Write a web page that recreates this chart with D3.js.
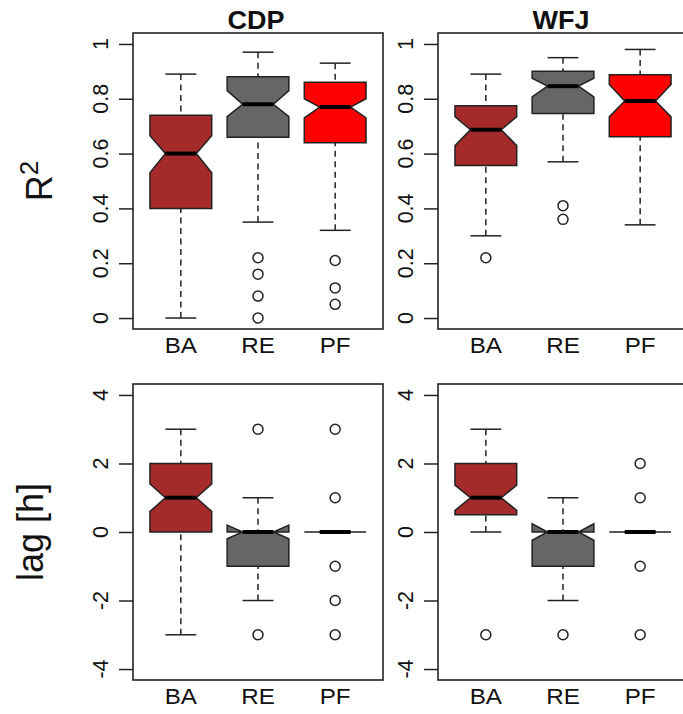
<!DOCTYPE html>
<html lang="en">
<head>
<meta charset="UTF-8">
<title>Notched boxplots</title>
<script src="https://d3js.org/d3.v7.min.js"></script>
<style>
  body { margin: 0; background: #fff; }
  svg { display: block; font-family: "Liberation Sans", Arial, sans-serif; }
</style>
</head>
<body>
<script>
    // categories
    const methods = ["BA", "RE", "PF"];
    const fills = ["#A52A2A", "#666666", "#FF0000"];
    const sites = ["CDP", "WFJ"];

    // each row: [lower whisker, Q1, median, Q3, upper whisker]
    const r2CdpStats = [[0.00, 0.40, 0.60, 0.74, 0.89], [0.35, 0.66, 0.78, 0.88, 0.97], [0.32, 0.64, 0.77, 0.86, 0.93]];
    const r2CdpNotch = [[0.53, 0.665], [0.735, 0.83], [0.73, 0.80]];
    const r2CdpOut = [[], [0.22, 0.16, 0.08, 0.0], [0.21, 0.11, 0.05]];

    const r2WfjStats = [[0.30, 0.557, 0.687, 0.775, 0.89], [0.57, 0.746, 0.846, 0.90, 0.95], [0.34, 0.661, 0.792, 0.888, 0.98]];
    const r2WfjNotch = [[0.629, 0.735], [0.807, 0.875], [0.734, 0.852]];
    const r2WfjOut = [[0.22], [0.41, 0.36], []];

    const lagCdpStats = [[-3, 0, 1, 2, 3], [-2, -1, 0, 0, 1], [0, 0, 0, 0, 0]];
    const lagCdpNotch = [[0.6, 1.4], [-0.2, 0.2], [0, 0]];
    const lagCdpOut = [[], [3, -3], [3, 1, -1, -2, -3]];

    const lagWfjStats = [[0, 0.5, 1, 2, 3], [-2, -1, 0, 0, 1], [0, 0, 0, 0, 0]];
    const lagWfjNotch = [[0.63, 1.37], [-0.24, 0.24], [0, 0]];
    const lagWfjOut = [[-3], [-3], [2, 1, -1, -3]];

    const r2Ticks = [0, 0.2, 0.4, 0.6, 0.8, 1];
    const lagTicks = [-4, -2, 0, 2, 4];

    const width = 683, height = 714;
    const svg = d3.select("body").append("svg").attr("width", width).attr("height", height);

    const panelW = 250, panelH = 296;
    const lefts = [133, 438];
    const tops = [33, 384];

    const rows = [
        { domain: [0, 1], ticks: r2Ticks,
          data: [[r2CdpStats, r2CdpNotch, r2CdpOut], [r2WfjStats, r2WfjNotch, r2WfjOut]] },
        { domain: [-4, 4], ticks: lagTicks,
          data: [[lagCdpStats, lagCdpNotch, lagCdpOut], [lagWfjStats, lagWfjNotch, lagWfjOut]] }
    ];

    const ink = "#222", lw = 1.5;

    rows.forEach((row, ri) => {
        const top = tops[ri];
        const ext = (row.domain[1] - row.domain[0]) * 0.04;
        const y = d3.scaleLinear().domain([row.domain[0] - ext, row.domain[1] + ext]).range([top + panelH, top]);

        row.data.forEach(([stats, notch, outs], ci) => {
            const left = lefts[ci];
            const x = d3.scaleLinear().domain([0.38, 3.62]).range([left, left + panelW]);
            const g = svg.append("g");

            // y axis, labels rotated like R
            const axis = d3.axisLeft(y).tickValues(row.ticks).tickSize(14).tickFormat("");
            const ag = g.append("g").attr("transform", `translate(${left},0)`).call(axis);
            ag.select(".domain").remove();
            ag.selectAll("line").attr("stroke", ink).attr("stroke-width", lw);
            row.ticks.forEach(t => {
                g.append("text")
                    .attr("transform", `translate(${left - 25},${y(t)}) rotate(-90)`)
                    .attr("text-anchor", "middle")
                    .attr("font-size", 21.5)
                    .attr("fill", "#111")
                    .text(String(t));
            });

            // boxes
            const bw = 0.4, nw = 0.2, sw = 0.2;
            stats.forEach((s, i) => {
                const c = i + 1;
                const [lo, q1, med, q3, hi] = s;
                const [nlo, nhi] = notch[i];
                const dash = "6,4.5";
                g.append("line").attr("x1", x(c)).attr("x2", x(c)).attr("y1", y(lo)).attr("y2", y(q1))
                    .attr("stroke", ink).attr("stroke-width", lw).attr("stroke-dasharray", dash);
                g.append("line").attr("x1", x(c)).attr("x2", x(c)).attr("y1", y(hi)).attr("y2", y(q3))
                    .attr("stroke", ink).attr("stroke-width", lw).attr("stroke-dasharray", dash);
                [lo, hi].forEach(v => {
                    g.append("line").attr("x1", x(c - sw)).attr("x2", x(c + sw)).attr("y1", y(v)).attr("y2", y(v))
                        .attr("stroke", ink).attr("stroke-width", lw);
                });
                const pts = [
                    [c - bw, q1], [c - bw, nlo], [c - nw, med], [c - bw, nhi], [c - bw, q3],
                    [c + bw, q3], [c + bw, nhi], [c + nw, med], [c + bw, nlo], [c + bw, q1]
                ];
                g.append("path")
                    .attr("d", d3.line().x(p => x(p[0])).y(p => y(p[1]))(pts) + "Z")
                    .attr("fill", fills[i]).attr("stroke", ink).attr("stroke-width", lw)
                    .attr("stroke-linejoin", "miter");
                g.append("line").attr("x1", x(c - nw)).attr("x2", x(c + nw)).attr("y1", y(med)).attr("y2", y(med))
                    .attr("stroke", "#000").attr("stroke-width", 4);
                outs[i].forEach(v => {
                    g.append("circle").attr("cx", x(c)).attr("cy", y(v)).attr("r", 5)
                        .attr("fill", "none").attr("stroke", ink).attr("stroke-width", lw);
                });
            });

            // frame
            g.append("rect").attr("x", left).attr("y", top).attr("width", panelW).attr("height", panelH)
                .attr("fill", "none").attr("stroke", ink).attr("stroke-width", 1.6);

            // category labels (source is slightly stretched horizontally)
            methods.forEach((m, i) => {
                g.append("text")
                    .attr("transform", `translate(${x(i + 1)},${top + panelH + 24}) scale(1.1,1)`)
                    .attr("text-anchor", "middle").attr("font-size", 22).attr("fill", "#111").text(m);
            });

            if (ri === 0) {
                g.append("text")
                    .attr("transform", `translate(${left + panelW / 2 - 2},29) scale(1.08,1)`)
                    .attr("text-anchor", "middle").attr("font-size", 25).attr("font-weight", "bold")
                    .attr("fill", "#111").text(sites[ci]);
            }
        });
    });

    // row titles
    const r2Title = svg.append("text")
        .attr("transform", `translate(52,${tops[0] + panelH / 2}) rotate(-90)`)
        .attr("text-anchor", "middle").attr("font-size", 36).attr("fill", "#111");
    r2Title.append("tspan").text("R");
    r2Title.append("tspan").attr("dy", -14).attr("font-size", 26).text("2");

    svg.append("text")
        .attr("transform", `translate(43,${tops[1] + panelH / 2}) rotate(-90)`)
        .attr("text-anchor", "middle").attr("font-size", 36).attr("fill", "#111")
        .text("lag [h]");
</script>
</body>
</html>
